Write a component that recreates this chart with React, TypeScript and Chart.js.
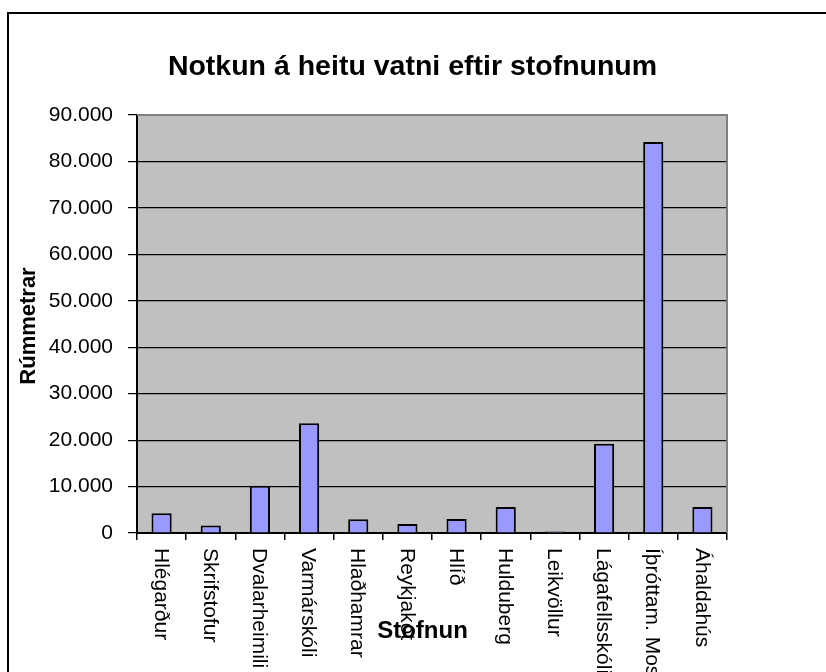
import React, { useEffect, useRef } from "react";
import { Chart, registerables } from "chart.js";

Chart.register(...registerables);

const categories = [
  "Hlégarður",
  "Skrifstofur",
  "Dvalarheimili",
  "Varmárskóli",
  "Hlaðhamrar",
  "Reykjakot",
  "Hlíð",
  "Hulduberg",
  "Leikvöllur",
  "Lágafellsskóli",
  "Íþróttam. Mosfellsbæjar",
  "Áhaldahús",
];
const values = [4250, 1600, 10150, 23650, 2950, 1950, 3000, 5600, 300, 19200, 84200, 5600];
const yMin = 0;
const yMax = 90000;
const yStep = 10000;
const chartTitle = "Notkun á heitu vatni eftir stofnunum";
const xTitle = "Stofnun";
const yTitle = "Rúmmetrar";

const FONT = '"Liberation Sans", Arial, sans-serif';

function fmt(v: number) {
  return String(Math.round(v)).replace(/\B(?=(\d{3})+(?!\d))/g, ".");
}

export default function App() {
  const ref = useRef<HTMLCanvasElement>(null);

  useEffect(() => {
    const canvas = ref.current;
    if (!canvas) return;

    const decor = {
      id: "decor",
      beforeDraw(chart: any) {
        const { ctx, chartArea: a } = chart;
        ctx.save();
        ctx.fillStyle = "#ffffff";
        ctx.fillRect(0, 0, chart.width, chart.height);
        ctx.fillStyle = "#C0C0C0";
        ctx.fillRect(a.left, a.top, a.right - a.left, a.bottom - a.top);
        ctx.restore();
      },
      afterDraw(chart: any) {
        const { ctx, chartArea: a } = chart;
        const xs = chart.scales.x;
        ctx.save();
        // plot area gray border (top & right)
        ctx.strokeStyle = "#808080";
        ctx.lineWidth = 2;
        ctx.beginPath();
        ctx.moveTo(a.left, a.top);
        ctx.lineTo(a.right, a.top);
        ctx.lineTo(a.right, a.bottom);
        ctx.stroke();

        // outer chart border
        ctx.strokeStyle = "#000";
        ctx.lineWidth = 2;
        ctx.strokeRect(8, 13, 900, 800);

        // title
        ctx.fillStyle = "#000";
        ctx.font = `bold 28.5px ${FONT}`;
        ctx.textAlign = "center";
        ctx.textBaseline = "alphabetic";
        ctx.fillText(chartTitle, 412.5, 75);

        // x labels (rotated clockwise)
        ctx.font = `21px ${FONT}`;
        ctx.textAlign = "left";
        ctx.textBaseline = "middle";
        categories.forEach((c, i) => {
          const x = xs.getPixelForValue(i);
          ctx.save();
          ctx.translate(x - 1, a.bottom + 15);
          ctx.rotate(Math.PI / 2);
          ctx.fillText(c, 0, 0);
          ctx.restore();
        });

        // x title
        ctx.font = `bold 24px ${FONT}`;
        ctx.textAlign = "center";
        ctx.textBaseline = "alphabetic";
        ctx.fillText(xTitle, 422.5, 638);

        // y title
        ctx.save();
        ctx.font = `bold 22px ${FONT}`;
        ctx.translate(35, (a.top + a.bottom) / 2 + 2);
        ctx.rotate(-Math.PI / 2);
        ctx.textAlign = "center";
        ctx.textBaseline = "alphabetic";
        ctx.fillText(yTitle, 0, 0);
        ctx.restore();

        ctx.restore();
      },
    };

    const chart = new Chart(canvas, {
      type: "bar",
      data: {
        labels: categories,
        datasets: [
          {
            data: values,
            backgroundColor: "#9999FF",
            borderColor: "#000000",
            borderWidth: 2,
            barPercentage: 0.41,
            categoryPercentage: 1.0,
          },
        ],
      },
      options: {
        responsive: false,
        animation: false,
        devicePixelRatio: 1,
        layout: { padding: { left: 0, top: 115, right: 99, bottom: 0 } },
        plugins: {
          legend: { display: false },
          title: { display: false },
          tooltip: { enabled: false },
        },
        scales: {
          x: {
            offset: true,
            ticks: { display: false },
            grid: {
              display: true,
              offset: true,
              drawOnChartArea: false,
              drawTicks: true,
              tickLength: 7,
              color: "#000",
              lineWidth: 1.5,
            },
            border: { display: true, color: "#000", width: 2 },
            afterFit(scale: any) {
              scale.height = 672 - 533;
              scale.paddingLeft = 0;
              scale.paddingRight = 0;
            },
          },
          y: {
            min: yMin,
            max: yMax,
            ticks: {
              stepSize: yStep,
              color: "#000",
              padding: 15,
              font: { family: FONT, size: 21 },
              callback: (v: any) => fmt(Number(v)),
            },
            grid: {
              color: "#000",
              lineWidth: 1.2,
              drawTicks: true,
              tickLength: 9,
            },
            border: { display: true, color: "#000", width: 2 },
            afterFit(scale: any) {
              scale.width = 137;
              scale.paddingTop = 0;
              scale.paddingBottom = 0;
            },
          },
        },
      },
      plugins: [decor],
    });

    return () => chart.destroy();
  }, []);

  return (
    <div style={{ position: "fixed", left: 0, top: 0, width: 826, height: 672, background: "#fff" }}>
      <canvas ref={ref} width={826} height={672} style={{ display: "block", width: 826, height: 672 }} />
    </div>
  );
}
